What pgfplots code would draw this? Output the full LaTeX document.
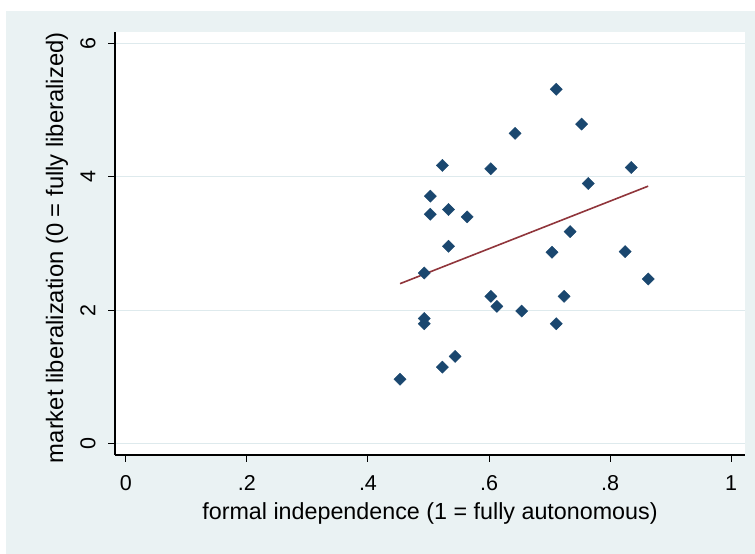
\documentclass[border=0pt]{standalone}
\usepackage{fontspec}
\setmainfont{Liberation Sans}
\usepackage{pgfplots}
\pgfplotsset{compat=1.18}
\definecolor{bgcol}{RGB}{234,242,243}
\definecolor{gridcol}{RGB}{222,234,237}
\definecolor{stnavy}{RGB}{26,71,111}
\definecolor{stmaroon}{RGB}{144,53,59}
\begin{document}
\begin{tikzpicture}[x=1pt,y=1pt]
\fill[white] (0,0) rectangle (755,554);
\fill[bgcol] (6,0) rectangle (755,543);
\begin{axis}[
  at={(115pt,99pt)}, anchor=south west,
  scale only axis, width=630pt, height=423pt,
  xmin=-0.018, xmax=1.023, ymin=-0.165, ymax=6.168,
  axis x line*=bottom, axis y line*=left,
  axis line style={-, line width=1.2pt, black},
  axis background/.style={fill=white},
  tick align=outside, major tick length=7pt,
  tick style={black, line width=1pt},
  xtick={0,0.2,0.4,0.6,0.8,1},
  xticklabels={0,.2,.4,.6,.8,1},
  ytick={0,2,4,6},
  yticklabels={0,2,4,6},
  ymajorgrids, grid style={gridcol, line width=1pt},
  ticklabel style={font=\fontsize{21.5}{25}\selectfont},
  xticklabel style={yshift=-10pt},
  yticklabel style={rotate=90, anchor=south},
  yticklabel shift=9pt,
  xlabel={formal independence (1 = fully autonomous)},
  ylabel={market liberalization (0 = fully liberalized)},
  every axis x label/.style={at={(axis description cs:0.5,-0.138)}, anchor=center, font=\fontsize{23.3}{27}\selectfont},
  every axis y label/.style={at={(axis description cs:-0.092,0.49)}, rotate=90, anchor=center, font=\fontsize{23.8}{27}\selectfont},
  clip=false,
]
\addplot[only marks, mark=square*, mark size=4.3pt, mark options={rotate=45, stnavy, fill=stnavy}] coordinates {
(0.711,5.31) (0.643,4.65) (0.523,4.17) (0.603,4.12) (0.503,3.71)
(0.503,3.44) (0.533,3.51) (0.564,3.40) (0.533,2.96) (0.704,2.87)
(0.493,2.56) (0.603,2.21) (0.613,2.06) (0.654,1.99) (0.493,1.88)
(0.493,1.80) (0.711,1.80) (0.544,1.31) (0.523,1.15) (0.453,0.97)
(0.753,4.79) (0.835,4.14) (0.764,3.90) (0.734,3.18) (0.825,2.88)
(0.863,2.47) (0.724,2.21)
};
\addplot[stmaroon, line width=1.6pt] coordinates {(0.453,2.40) (0.863,3.86)};
\end{axis}
\end{tikzpicture}
\end{document}
